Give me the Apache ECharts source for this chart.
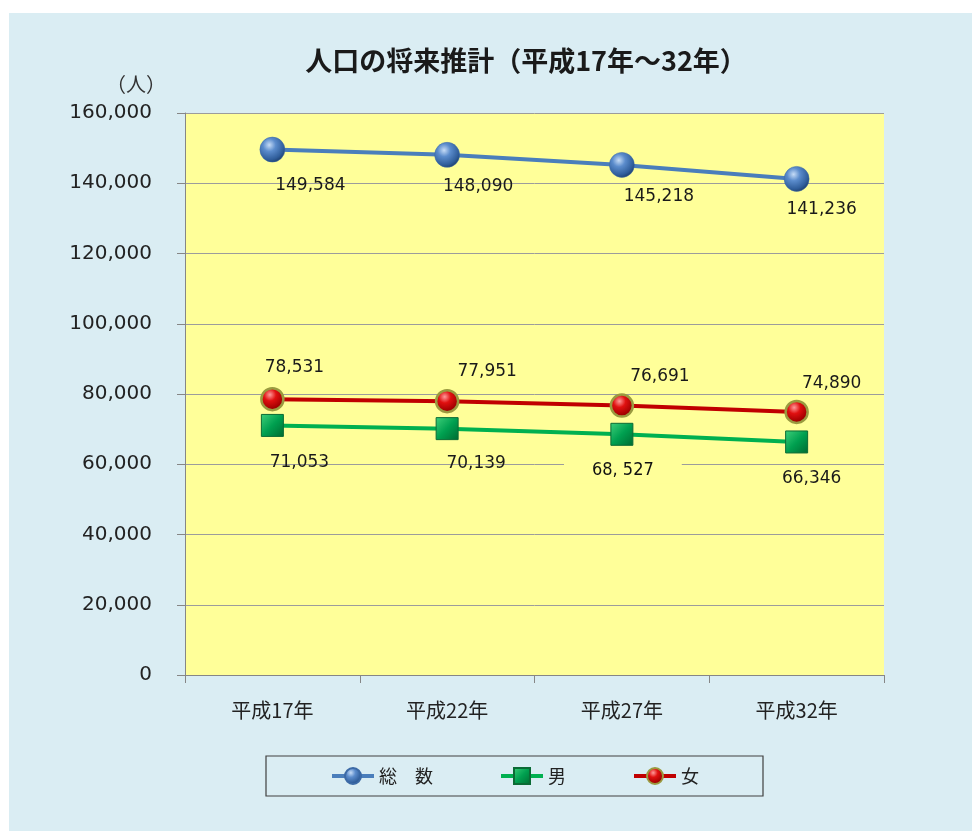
<!DOCTYPE html>
<html>
<head>
<meta charset="utf-8">
<script src="https://cdn.jsdelivr.net/npm/echarts@6/dist/echarts.min.js"></script>
<style>
html,body{margin:0;padding:0;background:#ffffff;}
#chart{position:absolute;left:9px;top:13px;width:963px;height:818px;}
</style>
</head>
<body>
<div id="chart"></div>
<script>
const categories = ['平成17年', '平成22年', '平成27年', '平成32年'];
const totalValues = [149584, 148090, 145218, 141236];
const maleValues = [71053, 70139, 68527, 66346];
const femaleValues = [78531, 77951, 76691, 74890];
const seriesNames = ['総\u3000数', '男', '女'];
const yMin = 0, yMax = 160000, yInterval = 20000;

// label offsets (layout only)
const totalLabelOffsets = [[38, 36], [31, 32], [37, 32], [25, 31]];
const femaleLabelOffsets = [[22, -32], [40, -30], [38, -29], [35, -28]];
const maleLabelOffsets = [[27, 37], [29, 35], [1, 36], [15, 37]];

const fmt = v => String(v).replace(/\B(?=(\d{3})+(?!\d))/g, ',');
const NUMFONT = 'DejaVu Sans, Noto Sans CJK JP, sans-serif';
const CJKFONT = 'Noto Sans CJK JP, DejaVu Sans, sans-serif';

function buildData(values, offsets, special) {
  return values.map((v, i) => {
    const d = { value: v, label: { offset: offsets[i] } };
    if (special && special.index === i) Object.assign(d.label, special.label);
    return d;
  });
}

const blueSphere = { type: 'radial', x: 0.38, y: 0.32, r: 0.72, colorStops: [
  { offset: 0, color: '#c6dcf6' }, { offset: 0.35, color: '#5b8ccc' }, { offset: 0.8, color: '#2f5d9a' }, { offset: 1, color: '#1d3d6a' }] };
const redSphere = { type: 'radial', x: 0.4, y: 0.32, r: 0.72, colorStops: [
  { offset: 0, color: '#ff9a9a' }, { offset: 0.35, color: '#e01010' }, { offset: 0.8, color: '#a00000' }, { offset: 1, color: '#600000' }] };
const greenBox = { type: 'linear', x: 0, y: 0, x2: 1, y2: 1, colorStops: [
  { offset: 0, color: '#3fd07a' }, { offset: 0.5, color: '#00a050' }, { offset: 1, color: '#006a30' }] };

const chart = echarts.init(document.getElementById('chart'), null, { renderer: 'canvas' });
chart.setOption({
  backgroundColor: '#daedf3',
  animation: false,
  title: {
    text: '人口の将来推計（平成17年～32年）',
    left: 512, top: 29, textAlign: 'center',
    textStyle: { fontFamily: CJKFONT, fontSize: 27, fontWeight: 'bold', color: '#1a1a1a' }
  },
  graphic: [{
    type: 'text', left: 97, top: 61,
    style: { text: '（人）', font: '20px ' + CJKFONT, fill: '#333' }
  }],
  legend: {
    left: 257, top: 743,
    data: seriesNames,
    padding: [11, 64, 11, 64],
    itemGap: 66,
    itemWidth: 42, itemHeight: 20,
    lineStyle: { width: 4 },
    borderColor: '#404040', borderWidth: 1.2, borderRadius: 0,
    textStyle: { fontFamily: CJKFONT, fontSize: 18, color: '#222' }
  },
  grid: { left: 176, right: 88, top: 100, bottom: 156, show: true, backgroundColor: '#ffff99', borderWidth: 0 },
  xAxis: {
    type: 'category', data: categories, boundaryGap: true,
    axisLine: { show: true, lineStyle: { color: '#868686', width: 1 } },
    axisTick: { show: true, length: 8, lineStyle: { color: '#868686' } },
    axisLabel: { margin: 25, fontFamily: CJKFONT, fontSize: 20, color: '#222' },
    splitLine: { show: false }
  },
  yAxis: {
    type: 'value', min: yMin, max: yMax, interval: yInterval,
    axisLine: { show: true, lineStyle: { color: '#868686', width: 1 } },
    axisTick: { show: true, length: 8, lineStyle: { color: '#868686' } },
    axisLabel: { margin: 33, fontFamily: NUMFONT, fontSize: 20, color: '#222', formatter: v => fmt(v) },
    splitLine: { show: true, lineStyle: { color: '#9c9c9c', width: 1 } }
  },
  series: [
    {
      name: seriesNames[0], type: 'line',
      data: buildData(totalValues, totalLabelOffsets),
      symbol: 'circle', symbolSize: 25,
      lineStyle: { color: '#4a7ebb', width: 4 },
      itemStyle: { color: blueSphere, borderColor: '#3c6aa6', borderWidth: 0.5 },
      label: { show: true, position: 'inside', formatter: p => fmt(p.value), fontFamily: NUMFONT, fontSize: 17, color: '#1a1a1a' },
      z: 3
    },
    {
      name: seriesNames[1], type: 'line',
      data: buildData(maleValues, maleLabelOffsets, { index: 2, label: {
        formatter: p => fmt(p.value).replace(',', ', '),
        fontFamily: 'Liberation Sans Narrow, DejaVu Sans Condensed, sans-serif',
        fontSize: 18, fontWeight: 'normal', color: '#111',
        backgroundColor: '#ffff99', padding: [4, 28, 4, 28]
      } }),
      symbol: 'rect', symbolSize: 22,
      lineStyle: { color: '#00b050', width: 4 },
      itemStyle: { color: greenBox, borderColor: '#0b6b35', borderWidth: 1 },
      label: { show: true, position: 'inside', formatter: p => fmt(p.value), fontFamily: NUMFONT, fontSize: 17, color: '#1a1a1a' },
      z: 4
    },
    {
      name: seriesNames[2], type: 'line',
      data: buildData(femaleValues, femaleLabelOffsets),
      symbol: 'circle', symbolSize: 22,
      lineStyle: { color: '#c00000', width: 4 },
      itemStyle: { color: redSphere, borderColor: '#9a9a40', borderWidth: 2.5 },
      label: { show: true, position: 'inside', formatter: p => fmt(p.value), fontFamily: NUMFONT, fontSize: 17, color: '#1a1a1a' },
      z: 5
    }
  ]
});
</script>
</body>
</html>
